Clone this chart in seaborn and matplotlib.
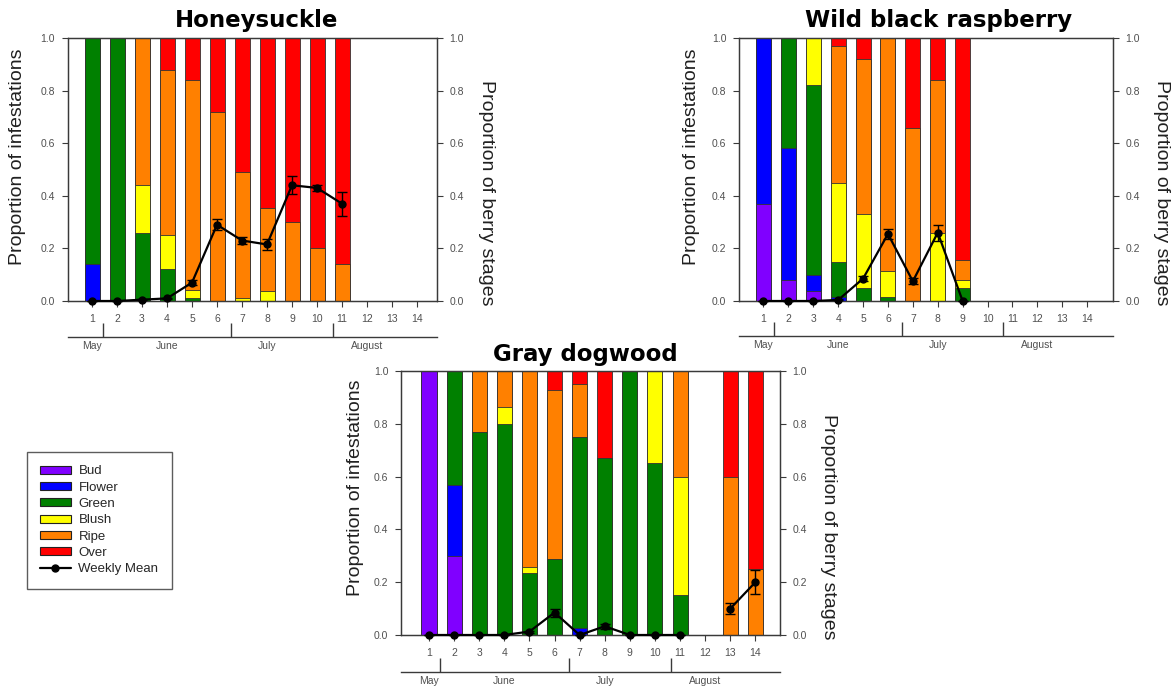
import numpy as np
import matplotlib
matplotlib.use("Agg")
import matplotlib.pyplot as plt
from matplotlib.patches import Patch
from matplotlib.lines import Line2D
import seaborn as sns

# berry stages (stack order, bottom to top)
stages = ["Bud", "Flower", "Green", "Blush", "Ripe", "Over"]
stage_colors = ["#8000ff", "#0000ff", "#008000", "#ffff00", "#ff8000", "#ff0000"]

week_ticks = list(range(1, 15))
month_names = ["May", "June", "July", "August"]
month_label_weeks = [1, 4, 8, 12]
month_bounds = [1.42, 6.57, 10.62]

# Honeysuckle, weeks 1-11
hs_weeks = list(range(1, 12))
hs_bud = [0, 0, 0, 0, 0, 0, 0, 0, 0, 0, 0]
hs_flower = [0.14, 0, 0, 0, 0, 0, 0, 0, 0, 0, 0]
hs_green = [0.86, 1.0, 0.26, 0.12, 0.013, 0, 0, 0, 0, 0, 0]
hs_blush = [0, 0, 0.18, 0.13, 0.027, 0, 0.01, 0.037, 0, 0, 0]
hs_ripe = [0, 0, 0.56, 0.63, 0.80, 0.72, 0.48, 0.318, 0.30, 0.20, 0.142]
hs_over = [0, 0, 0, 0.12, 0.16, 0.28, 0.51, 0.645, 0.70, 0.80, 0.858]
hs_mean = [0, 0, 0.005, 0.01, 0.07, 0.29, 0.23, 0.215, 0.44, 0.43, 0.37]
hs_err = [0, 0, 0.003, 0.003, 0.008, 0.02, 0.012, 0.02, 0.035, 0.012, 0.045]

# Wild black raspberry, weeks 1-9
rb_weeks = list(range(1, 10))
rb_bud = [0.37, 0.08, 0.037, 0, 0, 0, 0, 0, 0]
rb_flower = [0.63, 0.50, 0.063, 0.015, 0, 0, 0, 0, 0]
rb_green = [0, 0.42, 0.72, 0.132, 0.05, 0.015, 0, 0, 0.05]
rb_blush = [0, 0, 0.18, 0.303, 0.28, 0.099, 0, 0.258, 0.03]
rb_ripe = [0, 0, 0, 0.52, 0.59, 0.886, 0.656, 0.582, 0.074]
rb_over = [0, 0, 0, 0.03, 0.08, 0, 0.344, 0.16, 0.846]
rb_mean = [0, 0, 0, 0.004, 0.085, 0.255, 0.075, 0.26, 0.0]
rb_err = [0, 0, 0, 0.002, 0.01, 0.02, 0.012, 0.03, 0]

# Gray dogwood, weeks 1-14 (no sample in week 12)
gd_weeks = list(range(1, 15))
gd_bud = [1.0, 0.30, 0, 0, 0, 0, 0, 0, 0, 0, 0, 0, 0, 0]
gd_flower = [0, 0.27, 0, 0, 0, 0, 0.026, 0, 0, 0, 0, 0, 0, 0]
gd_green = [0, 0.43, 0.77, 0.80, 0.233, 0.287, 0.724, 0.67, 1.0, 0.653, 0.15, 0, 0, 0]
gd_blush = [0, 0, 0, 0.065, 0.024, 0, 0, 0, 0, 0.347, 0.45, 0, 0, 0]
gd_ripe = [0, 0, 0.23, 0.135, 0.743, 0.641, 0.20, 0, 0, 0, 0.40, 0, 0.60, 0.25]
gd_over = [0, 0, 0, 0, 0, 0.072, 0.05, 0.33, 0, 0, 0, 0, 0.40, 0.75]
gd_mean = [0, 0, 0, 0, 0.013, 0.085, 0, 0.033, 0, 0, 0, np.nan, 0.10, 0.20]
gd_err = [0, 0, 0, 0, 0.004, 0.015, 0, 0.01, 0, 0, 0, np.nan, 0.02, 0.045]

sns.set_theme(style="ticks")
plt.rcParams['font.family'] = ['Liberation Sans', 'DejaVu Sans']

spine_c = "#3a3a3a"
tick_c = "#505050"

W, H = 1176, 698
fig = plt.figure(figsize=(W / 100, H / 100), dpi=100)


def draw_panel(rect, title, title_xy, weeks, stage_vals, mean, err, xlim,
               month_loc, ylab_left, ylab_right):
    ax = fig.add_axes(rect)
    cum = np.cumsum(np.array(stage_vals, dtype=float), axis=0)
    # layered bars, tallest first
    for i in range(len(stages) - 1, -1, -1):
        sns.barplot(x=weeks, y=cum[i], color=stage_colors[i], width=0.6,
                    native_scale=True, saturation=1, errorbar=None,
                    edgecolor="#333333", linewidth=0.6, ax=ax)
    ax.set_xlim(*xlim)
    ax.set_ylim(0, 1)
    ax.set_xticks(week_ticks, labels=[str(w) for w in week_ticks])
    ax.set_yticks(np.arange(0, 1.01, 0.2),
                  labels=[f"{v:.1f}" for v in np.arange(0, 1.01, 0.2)])
    ax.tick_params(direction="out", length=4, width=0.8, color=spine_c,
                   labelsize=7.5, labelcolor=tick_c, pad=5)
    ax.set_xlabel("")
    ax.set_ylabel("Proportion of infestations", fontsize=14, color="#202020",
                  va="center", ha="center")
    ax.yaxis.set_label_coords(*ylab_left)
    for s in ax.spines.values():
        s.set_color(spine_c)
        s.set_linewidth(0.9)
        s.set_visible(True)

    ax2 = ax.twinx()
    ax2.set_ylim(0, 1)
    ax2.set_yticks(np.arange(0, 1.01, 0.2),
                   labels=[f"{v:.1f}" for v in np.arange(0, 1.01, 0.2)])
    ax2.tick_params(direction="out", length=4, width=0.8, color=spine_c,
                    labelsize=7.5, labelcolor=tick_c, pad=5)
    ax2.set_ylabel("Proportion of berry stages", fontsize=14, color="#202020",
                   rotation=270, va="center", ha="center")
    ax2.yaxis.set_label_coords(*ylab_right)
    for s in ax2.spines.values():
        s.set_color(spine_c)
        s.set_linewidth(0.9)

    mw = np.array(weeks, dtype=float)
    ax2.errorbar(mw, mean, yerr=err, color="black", marker="o", ms=5,
                 lw=1.6, elinewidth=1, capsize=3.5, capthick=1, clip_on=False,
                 zorder=5)

    # month axis under the week numbers
    sec = ax.secondary_xaxis(month_loc)
    sec.set_xticks(month_bounds, labels=["", "", ""])
    sec.tick_params(axis="x", which="major", direction="in", length=10,
                    width=1, color=spine_c)
    sec.set_xticks(month_label_weeks, labels=month_names, minor=True)
    sec.tick_params(axis="x", which="minor", length=0, labelsize=7.5,
                    labelcolor=tick_c, pad=3)
    sec.spines["bottom"].set_color(spine_c)
    sec.spines["bottom"].set_linewidth(1)

    fig.text(title_xy[0] / W, 1 - title_xy[1] / H, title, ha="center",
             va="center", fontsize=16.5, fontweight="bold",
             family=["DejaVu Sans"], color="black")
    return ax


draw_panel([67.5 / W, 1 - 301 / H, 369.5 / W, 263 / H], "Honeysuckle", (257, 20),
           hs_weeks, [hs_bud, hs_flower, hs_green, hs_blush, hs_ripe, hs_over],
           hs_mean, hs_err, (0.02, 14.8), -0.137, (-0.134, 0.55), (1.135, 0.41))

draw_panel([739 / W, 1 - 301 / H, 374 / W, 263 / H], "Wild black raspberry", (939, 20),
           rb_weeks, [rb_bud, rb_flower, rb_green, rb_blush, rb_ripe, rb_over],
           rb_mean, rb_err, (0.016, 15.04), -0.133, (-0.126, 0.55), (1.131, 0.41))

draw_panel([401 / W, 1 - 635 / H, 379 / W, 264 / H], "Gray dogwood", (585, 354),
           gd_weeks, [gd_bud, gd_flower, gd_green, gd_blush, gd_ripe, gd_over],
           gd_mean, gd_err, (-0.115, 14.98), -0.140, (-0.121, 0.557), (1.127, 0.41))

handles = [Patch(facecolor=c, edgecolor="#222222", linewidth=0.8)
           for c in stage_colors]
handles.append(Line2D([0], [0], color="black", lw=1.6, marker="o", ms=5))
labels = stages + ["Weekly Mean"]
leg = fig.legend(handles, labels, loc="upper left",
                 bbox_to_anchor=(27 / W, 1 - 452 / H), frameon=True,
                 fancybox=False, edgecolor="#333333", fontsize=9.5,
                 handlelength=2.3, handleheight=0.55, labelspacing=0.33,
                 handletextpad=0.6, borderpad=1.0, borderaxespad=0)
leg.get_frame().set_linewidth(1)

fig.savefig("out.png", dpi=100)
